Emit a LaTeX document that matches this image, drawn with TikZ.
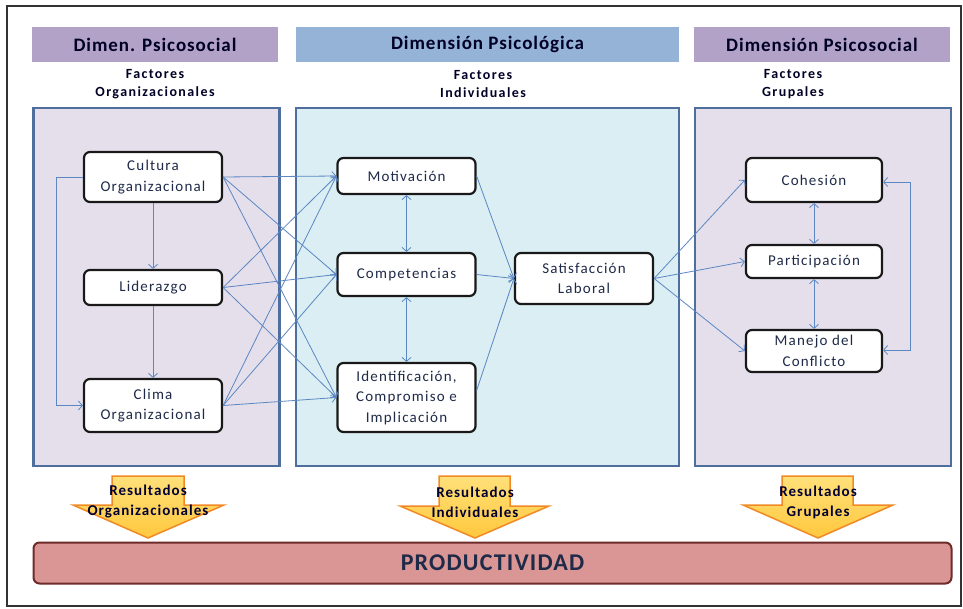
\documentclass[tikz,border=0pt]{standalone}
\usepackage{fontspec}
\setmainfont{Carlito}
\usetikzlibrary{arrows.meta,calc}

\definecolor{barPurple}{HTML}{B3A2C7}
\definecolor{barBlue}{HTML}{95B3D7}
\definecolor{panelPurple}{HTML}{E5DFEC}
\definecolor{panelBlue}{HTML}{DAEEF3}
\definecolor{panelEdge}{HTML}{4E6E9E}
\definecolor{linkBlue}{HTML}{5B87C2}
\definecolor{inkText}{HTML}{1E2A48}
\definecolor{prodFill}{HTML}{D99694}
\definecolor{prodEdge}{HTML}{6E2B2A}
\definecolor{arrowEdge}{HTML}{F08A24}
\definecolor{arrowTop}{HTML}{FFE07A}
\definecolor{arrowBot}{HTML}{FFC83D}

\tikzset{
  titlebar/.style={draw=none, minimum height=35pt, inner sep=0pt,
    font=\bfseries\fontsize{19}{20}\selectfont\addfontfeatures{LetterSpace=5},
    text=black!85!blue},
  subhead/.style={align=center, inner sep=0pt,
    font=\bfseries\fontsize{14}{18}\selectfont\addfontfeatures{LetterSpace=10},
    text=black!85!blue},
  panel/.style={draw=panelEdge, line width=2.4pt, inner sep=0pt},
  factor/.style={draw=black!90, fill=white, line width=2.2pt, rounded corners=6pt,
    minimum width=138pt, inner sep=0pt, align=center,
    font=\fontsize{15}{20.5}\selectfont\addfontfeatures{LetterSpace=8}, text=inkText},
  link/.style={draw=linkBlue, line width=0.8pt, -{Straight Barb[length=4pt,width=9pt]}},
  duallink/.style={draw=linkBlue, line width=0.8pt,
    {Straight Barb[length=4pt,width=9pt]}-{Straight Barb[length=4pt,width=9pt]}},
  blockarrow/.style={draw=arrowEdge, line width=1.5pt, line join=miter,
    top color=arrowTop, bottom color=arrowBot},
  arrowtext/.style={align=center, inner sep=0pt,
    font=\bfseries\fontsize{15}{20}\selectfont\addfontfeatures{LetterSpace=7},
    text=black!80!blue},
}

\begin{document}
\begin{tikzpicture}[x=1pt,y=-1pt]
  \useasboundingbox (0,0) rectangle (963,609);
  \fill[white] (0,0) rectangle (963,609);

  % outer frame
  \draw[black!80, line width=2pt] (7,6) rectangle (961,606);

  % dimension headers
  \node[titlebar, fill=barPurple, minimum width=246pt] (h1) at (155,44.5) {Dimen. Psicosocial};
  \node[titlebar, fill=barBlue, minimum width=383pt] (h2) at (487.5,44.5) {Dimensión Psicológica};
  \node[titlebar, fill=barPurple, minimum width=256pt] (h3) at (822,44.5) {Dimensión Psicosocial};

  % factor group captions
  \node[subhead] (s1) at (155,84) {Factores\\Organizacionales};
  \node[subhead] (s2) at (483,84) {Factores\\Individuales};
  \node[subhead] (s3) at (793,84) {Factores\\Grupales};

  % panels
  \node[panel, fill=panelPurple, minimum width=246pt, minimum height=358pt] (p1) at (156.5,287) {};
  \node[panel, fill=panelBlue, minimum width=383pt, minimum height=358pt] (p2) at (487.5,287) {};
  \node[panel, fill=panelPurple, minimum width=256pt, minimum height=358pt] (p3) at (823,287) {};

  % organisational factors
  \node[factor, minimum height=50pt] (cult) at (153,177) {Cultura\\Organizacional};
  \node[factor, minimum height=35pt] (lid) at (153,287.5) {Liderazgo};
  \node[factor, minimum height=53pt] (clima) at (153,405.5) {Clima\\Organizacional};

  % individual factors
  \node[factor, minimum height=36pt] (mot) at (406.5,176) {Motivación};
  \node[factor, minimum height=43pt] (comp) at (406.5,274.5) {Competencias};
  \node[factor, minimum height=69pt] (ident) at (406.5,397.5) {Identificación,\\Compromiso e\\Implicación};
  \node[factor, minimum height=51pt] (sat) at (584,278.5) {Satisfacción\\Laboral};

  % group factors
  \node[factor, minimum height=44pt, minimum width=136pt] (coh) at (814,180) {Cohesión};
  \node[factor, minimum height=33pt, minimum width=136pt] (part) at (814,261.5) {Participación};
  \node[factor, minimum height=42pt, minimum width=136pt] (man) at (814,351) {Manejo del\\Conflicto};

  % links inside the organisational panel
  \draw[link] (cult.south) -- (lid.north);
  \draw[link] (lid.south) -- (clima.north);
  \draw[link] (cult.west) -- ++(-27,0) |- (clima.west);

  % every organisational factor feeds every individual factor
  \foreach \src in {cult,lid,clima}{
    \foreach \dst in {mot,comp,ident}{
      \draw[link] (\src.east) -- (\dst.west);
    }
  }

  % individual factors
  \draw[duallink] (mot.south) -- (comp.north);
  \draw[duallink] (comp.south) -- (ident.north);
  \draw[link] (mot.east) -- (sat.west);
  \draw[link] (comp.east) -- (sat.west);
  \draw[link] ([yshift=7pt]ident.east) -- (sat.west);

  % satisfaction towards the group factors
  \draw[link] (sat.east) -- (coh.west);
  \draw[link] (sat.east) -- (part.west);
  \draw[link] (sat.east) -- (man.west);
  \draw[duallink] (coh.south) -- (part.north);
  \draw[duallink] (part.south) -- (man.north);
  \draw[duallink] ([yshift=-2pt]coh.east) -- ++(27,0) |- ([yshift=1pt]man.east);

  % result arrows
  \draw[blockarrow] (112,476) -- (184,476) -- (184,505) -- (224,505) -- (148,538)
    -- (73,505) -- (112,505) -- cycle;
  \draw[blockarrow] (439,476) -- (510,476) -- (510,506) -- (549,506) -- (475,538)
    -- (400,506) -- (439,506) -- cycle;
  \draw[blockarrow] (782,476) -- (853,476) -- (853,505) -- (893,505) -- (818,538)
    -- (743,505) -- (782,505) -- cycle;
  \node[arrowtext] (r1) at (148,502) {Resultados\\Organizacionales};
  \node[arrowtext] (r2) at (475,502) {Resultados\\Individuales};
  \node[arrowtext] (r3) at (818,502) {Resultados\\Grupales};

  % productivity bar
  \node[draw=prodEdge, fill=prodFill, line width=2pt, rounded corners=6pt,
    minimum width=918pt, minimum height=41pt, inner sep=0pt,
    font=\bfseries\fontsize{24}{26}\selectfont\addfontfeatures{LetterSpace=5},
    text=inkText] (prod) at (492.5,563) {PRODUCTIVIDAD};
\end{tikzpicture}
\end{document}
